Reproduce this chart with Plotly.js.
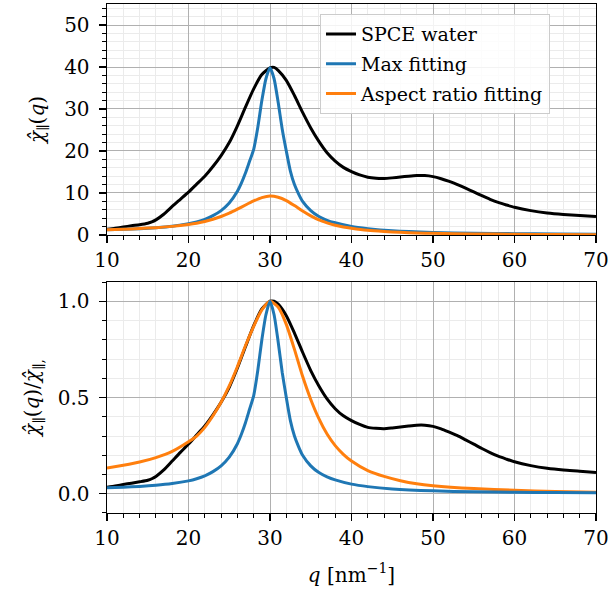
<!DOCTYPE html>
<html>
<head>
<meta charset="utf-8">
<script src="https://cdn.plot.ly/plotly-3.0.1.min.js"></script>
<style>html,body{margin:0;padding:0;background:#fff;}#chart{width:610px;height:601px;}</style>
</head>
<body>
<div id="chart"></div>
<script>
// ---- data ----
const seriesNames = ["SPCE water", "Max fitting", "Aspect ratio fitting"];

// SPCE water, absolute (top panel)
const qWater = [10,11,12,13,14,15,15.5,16,17,18,19,20,21,22,23,24,25,26,27,28,29,30,30.5,31,32,33,34,35,36,37,38,39,40,41,42,43,44,45,46,47,48,49,50,51,52,53,54,55,56,57,58,59,60,62,64,66,68,70];
const waterAbs = [1.35,1.6,1.9,2.2,2.45,2.8,3.1,3.6,5.0,6.8,8.5,10.2,12.1,14.0,16.3,18.9,22.0,26.0,30.5,34.8,38.2,39.8,39.9,39.2,36.8,33.2,29.2,25.5,22.3,19.6,17.6,16.1,15.1,14.3,13.75,13.5,13.45,13.6,13.8,14.0,14.15,14.15,13.9,13.4,12.75,12.0,11.15,10.25,9.35,8.5,7.75,7.15,6.6,5.8,5.25,4.9,4.65,4.4];
// SPCE water, normalised (bottom panel)
const waterNorm = [0.034,0.04,0.048,0.055,0.062,0.07,0.078,0.09,0.125,0.17,0.215,0.258,0.305,0.352,0.41,0.475,0.553,0.653,0.765,0.873,0.96,1.0,1.0,0.985,0.925,0.835,0.735,0.64,0.56,0.493,0.442,0.405,0.38,0.36,0.345,0.34,0.338,0.342,0.347,0.352,0.356,0.356,0.35,0.337,0.32,0.302,0.28,0.258,0.235,0.214,0.195,0.18,0.166,0.146,0.132,0.123,0.117,0.11];

// Max fitting
const qMax = [10,12,14,16,18,20,21,22,23,24,25,26,26.5,27,27.5,28,28.5,29,29.5,30,30.5,31,31.5,32,32.5,33,33.5,34,35,36,37,38,40,42,45,50,55,60,65,70];
const maxAbs = [1.25,1.35,1.5,1.75,2.1,2.7,3.1,3.7,4.6,5.8,7.6,10.4,12.4,14.8,17.6,20.4,25.6,32.0,37.2,39.8,37.2,31.6,25.2,20.0,15.2,12.0,9.8,8.0,5.8,4.4,3.5,2.9,2.0,1.5,1.0,0.6,0.4,0.32,0.24,0.2];
const maxNorm = [0.031,0.034,0.038,0.044,0.053,0.067,0.078,0.093,0.115,0.145,0.19,0.26,0.31,0.37,0.44,0.51,0.64,0.8,0.93,1.0,0.93,0.79,0.63,0.5,0.38,0.3,0.245,0.2,0.145,0.11,0.088,0.072,0.05,0.037,0.025,0.015,0.01,0.008,0.006,0.005];

// Aspect ratio fitting
const qAsp = [10,12,14,16,18,20,21,22,23,24,25,26,27,28,29,30,31,32,33,34,35,36,37,38,39,40,42,44,46,48,50,55,60,65,70];
const aspAbs = [1.24,1.38,1.53,1.75,2.05,2.5,2.8,3.2,3.75,4.4,5.2,6.15,7.15,8.1,8.9,9.3,9.0,8.2,7.0,5.7,4.55,3.6,2.9,2.3,1.9,1.6,1.12,0.84,0.63,0.48,0.39,0.25,0.17,0.11,0.075];
const aspNorm = [0.133,0.148,0.165,0.188,0.22,0.27,0.3,0.345,0.405,0.475,0.56,0.66,0.77,0.87,0.955,1.0,0.97,0.88,0.75,0.61,0.49,0.39,0.31,0.25,0.205,0.17,0.12,0.09,0.068,0.052,0.042,0.027,0.018,0.012,0.008];

const xTicks = [10,20,30,40,50,60,70];
const topYTicks = [0,10,20,30,40,50];
const botYTicks = [0.0,0.5,1.0];

// ---- styling ----
const colors = ["#000000", "#1f77b4", "#ff7f0e"];
const FONT = "'DejaVu Serif', 'Liberation Serif', serif";
const lw = 3;

function tr(x, y, i, xa, ya, show) {
  return {x: x, y: y, type: "scatter", mode: "lines", name: seriesNames[i],
    xaxis: xa, yaxis: ya, showlegend: show, legendgroup: "g" + i,
    line: {color: colors[i], width: lw, shape: "spline", smoothing: 0.6}};
}

const data = [
  tr(qWater, waterAbs, 0, "x", "y", true),
  tr(qMax, maxAbs, 1, "x", "y", true),
  tr(qAsp, aspAbs, 2, "x", "y", true),
  tr(qWater, waterNorm, 0, "x2", "y2", false),
  tr(qAsp, aspNorm, 2, "x2", "y2", false),
  tr(qMax, maxNorm, 1, "x2", "y2", false)
];

const minorX = {dtick: 2, ticks: "outside", ticklen: 4, tickwidth: 1, tickcolor: "#000", showgrid: true, gridcolor: "#ebebeb", gridwidth: 1};
const axBase = {
  showline: true, linecolor: "#000", linewidth: 1.4, mirror: true,
  ticks: "outside", ticklen: 7, tickwidth: 1.3, tickcolor: "#000",
  showgrid: true, gridcolor: "#b0b0b0", gridwidth: 1,
  zeroline: false,
  tickfont: {family: FONT, size: 20, color: "#000"}
};
function ax(extra) { return Object.assign({}, JSON.parse(JSON.stringify(axBase)), extra); }
const titleFont = {family: FONT, size: 20, color: "#000"};

const layout = {
  width: 610, height: 601,
  margin: {l: 107, r: 14, t: 4, b: 88},
  paper_bgcolor: "#fff", plot_bgcolor: "#fff",
  font: {family: FONT, color: "#000"},
  showlegend: true,
  legend: {
    x: 0.4356, y: 0.98, xanchor: "left", yanchor: "top",
    bgcolor: "rgba(255,255,255,0.85)", bordercolor: "#cccccc", borderwidth: 1,
    font: {family: FONT, size: 19, color: "#000"},
    tracegroupgap: 2, traceorder: "grouped"
  },
  xaxis: ax({domain: [0, 1], anchor: "y", range: [10, 70], tickvals: xTicks, minor: minorX}),
  yaxis: ax({domain: [0.5462, 1], anchor: "x", range: [0, 55], tickvals: topYTicks, ticklabelstandoff: 5,
    minor: Object.assign({}, minorX, {dtick: 2}),
    title: {text: "<i>χ̂</i><sub>∥</sub>(<i>q</i>)", font: titleFont, standoff: 14}}),
  xaxis2: ax({domain: [0, 1], anchor: "y2", range: [10, 70], tickvals: xTicks, minor: minorX,
    title: {text: "<i>q</i> [nm<sup>−1</sup>]", font: titleFont, standoff: 18}}),
  yaxis2: ax({domain: [0, 0.4538], anchor: "x2", range: [-0.1, 1.1], tickvals: botYTicks, tickformat: ".1f", ticklabelstandoff: 5,
    minor: Object.assign({}, minorX, {dtick: 0.1}),
    title: {text: "<i>χ̂</i><sub>∥</sub>(<i>q</i>)/<i>χ̂</i><sub>∥,</sub>", font: titleFont, standoff: 12}})
};

Plotly.newPlot("chart", data, layout, {displayModeBar: false, staticPlot: true});
</script>
</body>
</html>
